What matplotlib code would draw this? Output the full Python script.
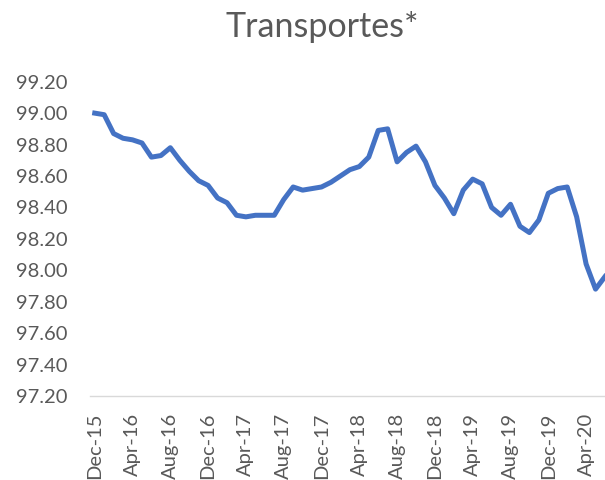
import matplotlib.pyplot as plt

# monthly index values, Dec-15 .. Jun-20
months = ['Dec-15', 'Jan-16', 'Feb-16', 'Mar-16', 'Apr-16', 'May-16', 'Jun-16', 'Jul-16',
          'Aug-16', 'Sep-16', 'Oct-16', 'Nov-16', 'Dec-16', 'Jan-17', 'Feb-17', 'Mar-17',
          'Apr-17', 'May-17', 'Jun-17', 'Jul-17', 'Aug-17', 'Sep-17', 'Oct-17', 'Nov-17',
          'Dec-17', 'Jan-18', 'Feb-18', 'Mar-18', 'Apr-18', 'May-18', 'Jun-18', 'Jul-18',
          'Aug-18', 'Sep-18', 'Oct-18', 'Nov-18', 'Dec-18', 'Jan-19', 'Feb-19', 'Mar-19',
          'Apr-19', 'May-19', 'Jun-19', 'Jul-19', 'Aug-19', 'Sep-19', 'Oct-19', 'Nov-19',
          'Dec-19', 'Jan-20', 'Feb-20', 'Mar-20', 'Apr-20', 'May-20', 'Jun-20']
values = [99.00, 98.99, 98.87, 98.84, 98.83, 98.81, 98.72, 98.73,
          98.78, 98.70, 98.63, 98.57, 98.54, 98.46, 98.43, 98.35,
          98.34, 98.35, 98.35, 98.35, 98.45, 98.53, 98.51, 98.52,
          98.53, 98.56, 98.60, 98.64, 98.66, 98.72, 98.89, 98.90,
          98.69, 98.75, 98.79, 98.69, 98.54, 98.46, 98.36, 98.51,
          98.58, 98.55, 98.40, 98.35, 98.42, 98.28, 98.24, 98.32,
          98.49, 98.52, 98.53, 98.34, 98.04, 97.88, 97.96]
y_ticks = [97.2 + 0.2 * i for i in range(11)]

plt.rcParams['font.family'] = ['Lato', 'DejaVu Sans']
text_col = '#595959'

fig = plt.figure(figsize=(6.05, 4.80), dpi=100)
ax = fig.add_axes([90 / 605, 84 / 480, 515 / 605, 314.3 / 480])

x = list(range(len(values)))
ax.plot(x, values, color='#4472C4', linewidth=3.6, solid_joinstyle='round', clip_on=False)

ax.set_xlim(-0.5, 54)
ax.set_ylim(97.2, 99.2)
ax.set_yticks(y_ticks)
ax.set_yticklabels([f'{v:.2f}' for v in y_ticks])
ax.set_xticks(x[::4])
ax.set_xticklabels(months[::4], rotation=90)

for s in ['top', 'right', 'left']:
    ax.spines[s].set_visible(False)
ax.spines['bottom'].set_color('#D9D9D9')
ax.spines['bottom'].set_linewidth(1.0)

ax.tick_params(axis='y', length=0, pad=16, labelsize=14.5, labelcolor=text_col)
ax.tick_params(axis='x', length=0, pad=12, labelsize=14.5, labelcolor=text_col)

fig.text(322 / 605, 1 - 27 / 480, 'Transportes*', ha='center', va='center',
         fontsize=24.5, color=text_col)

fig.savefig('out.png', dpi=100)
